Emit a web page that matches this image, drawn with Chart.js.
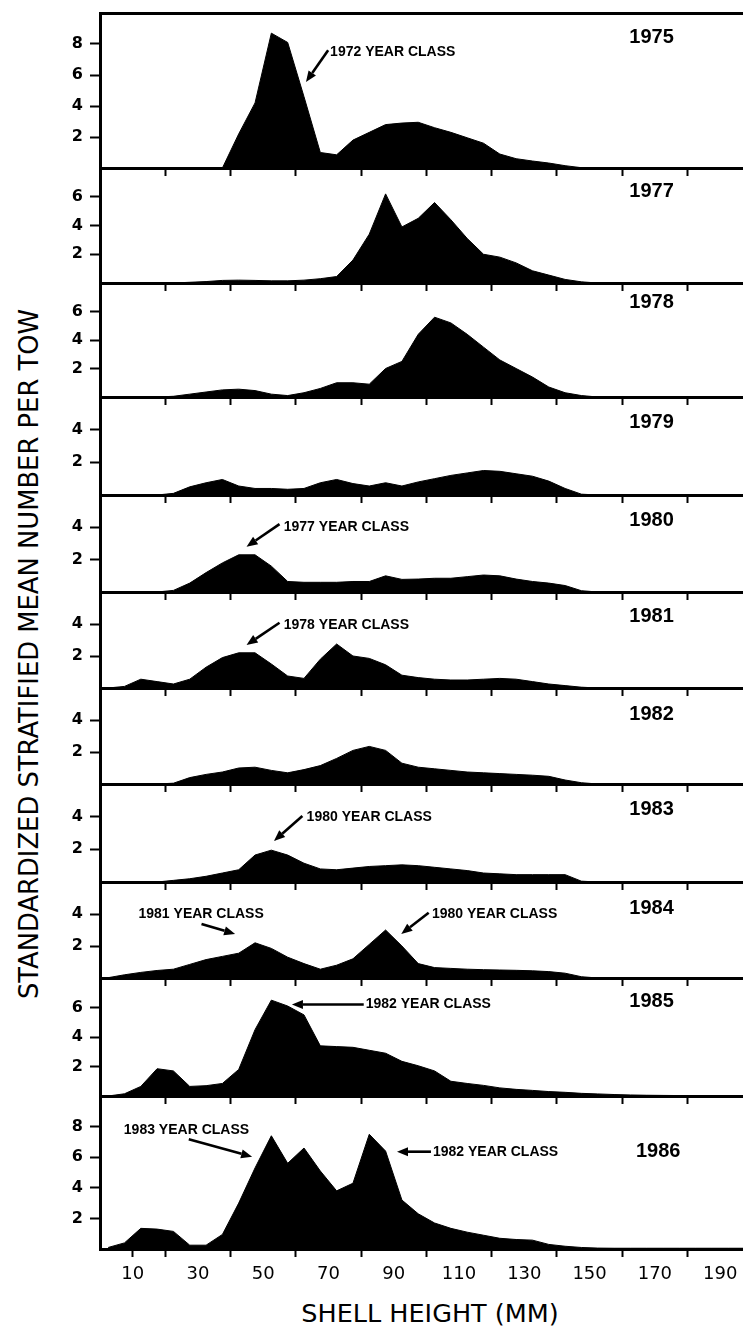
<!DOCTYPE html>
<html>
<head>
<meta charset="utf-8">
<script src="https://cdn.jsdelivr.net/npm/chart.js@4.4.0/dist/chart.umd.min.js"></script>
<style>
html,body{margin:0;padding:0;background:#fff;}
body{width:743px;height:1328px;position:relative;overflow:hidden;}
.panel{position:absolute;left:0;width:743px;}
.panel canvas{display:block;}
#ytitle{position:absolute;left:29px;top:654px;transform:translate(-50%,-50%) rotate(-90deg);white-space:nowrap;font-family:"DejaVu Sans",sans-serif;font-size:25.8px;color:#000;}
#xtitle{position:absolute;left:430px;top:1313px;transform:translate(-50%,-50%);white-space:nowrap;font-family:"DejaVu Sans",sans-serif;font-size:25.5px;color:#000;}
</style>
</head>
<body>
<div id="ytitle">STANDARDIZED STRATIFIED MEAN NUMBER PER TOW</div>
<div id="xtitle">SHELL HEIGHT (MM)</div>
<script>
// ---------------- DATA ----------------
const shellHeight = [2.5,7.5,12.5,17.5,22.5,27.5,32.5,37.5,42.5,47.5,52.5,57.5,62.5,67.5,72.5,77.5,82.5,87.5,92.5,97.5,102.5,107.5,112.5,117.5,122.5,127.5,132.5,137.5,142.5,147.5,152.5,157.5,162.5,167.5,172.5,177.5,182.5,187.5,192.5,197.5];

const years = ['1975','1977','1978','1979','1980','1981','1982','1983','1984','1985','1986'];

const n1975 = [0,0,0,0,0,0,0,0,2.2,4.2,8.7,8.1,4.6,1.0,0.85,1.8,2.3,2.8,2.9,2.95,2.6,2.3,1.95,1.6,0.9,0.6,0.45,0.32,0.15,0.02,0,0,0,0,0,0,0,0,0,0];
const n1977 = [0,0,0,0,0,0.05,0.1,0.18,0.2,0.18,0.15,0.15,0.2,0.3,0.45,1.6,3.4,6.2,3.9,4.5,5.6,4.4,3.1,2.0,1.8,1.4,0.85,0.55,0.25,0.08,0,0,0,0,0,0,0,0,0,0];
const n1978 = [0,0,0,0,0.05,0.2,0.35,0.5,0.55,0.45,0.2,0.1,0.3,0.6,1.0,1.0,0.9,2.0,2.5,4.4,5.6,5.2,4.4,3.5,2.6,2.0,1.4,0.7,0.3,0.1,0,0,0,0,0,0,0,0,0,0];
const n1979 = [0,0,0,0,0.1,0.5,0.75,0.95,0.55,0.4,0.4,0.35,0.4,0.75,0.95,0.7,0.55,0.75,0.55,0.8,1.0,1.2,1.35,1.5,1.45,1.3,1.15,0.85,0.4,0.05,0,0,0,0,0,0,0,0,0,0];
const n1980 = [0,0,0,0,0.1,0.55,1.2,1.8,2.3,2.3,1.6,0.65,0.6,0.6,0.6,0.65,0.65,1.0,0.78,0.8,0.85,0.85,0.95,1.05,1.0,0.8,0.65,0.55,0.4,0.08,0,0,0,0,0,0,0,0,0,0];
const n1981 = [0,0.1,0.55,0.4,0.25,0.55,1.3,1.9,2.2,2.2,1.5,0.75,0.6,1.8,2.75,2.0,1.85,1.45,0.8,0.65,0.55,0.5,0.5,0.55,0.6,0.55,0.4,0.25,0.15,0.05,0,0,0,0,0,0,0,0,0,0];
const n1982 = [0,0,0,0,0.05,0.4,0.6,0.75,1.0,1.05,0.85,0.7,0.9,1.15,1.6,2.1,2.35,2.1,1.3,1.05,0.95,0.85,0.75,0.7,0.65,0.6,0.55,0.48,0.25,0.08,0,0,0,0,0,0,0,0,0,0];
const n1983 = [0,0,0,0,0.1,0.2,0.35,0.55,0.75,1.65,1.95,1.65,1.15,0.8,0.75,0.85,0.95,1.0,1.05,1.0,0.9,0.8,0.7,0.55,0.5,0.45,0.45,0.45,0.45,0.05,0,0,0,0,0,0,0,0,0,0];
const n1984 = [0.02,0.2,0.35,0.47,0.55,0.85,1.15,1.35,1.55,2.2,1.85,1.3,0.9,0.55,0.8,1.2,2.1,3.0,2.0,0.9,0.65,0.6,0.55,0.52,0.5,0.48,0.45,0.4,0.3,0.08,0,0,0,0,0,0,0,0,0,0];
const n1985 = [0,0.15,0.65,1.85,1.7,0.65,0.7,0.85,1.8,4.5,6.5,6.1,5.5,3.4,3.35,3.3,3.1,2.9,2.35,2.05,1.7,1.0,0.85,0.72,0.55,0.45,0.38,0.3,0.25,0.18,0.14,0.1,0.07,0.05,0.04,0.03,0.03,0.02,0.02,0.02];
const n1986 = [0.1,0.4,1.35,1.3,1.15,0.25,0.25,0.95,3.0,5.3,7.4,5.6,6.6,5.1,3.8,4.3,7.5,6.4,3.2,2.3,1.7,1.35,1.1,0.9,0.7,0.62,0.58,0.3,0.18,0.1,0.06,0.05,0.05,0.05,0.05,0.05,0.05,0.05,0.05,0.05];

const series = [n1975,n1977,n1978,n1979,n1980,n1981,n1982,n1983,n1984,n1985,n1986];

const yAxisMax = [10,8,8,6,6,6,6,6,6,8,10];
const xMarkTicks = [20,40,60,80,100,120,140,160,180];
const xLabelTicks = [10,30,50,70,90,110,130,150,170,190];

// ---------------- LAYOUT (positions, not data) ----------------
const panelTop  = [13,168,283,397,495,592,688,784,882,978,1096];
const panelBase = [168,283,397,495,592,688,784,882,978,1096,1249];
const X_MIN = 0, X_MAX = 197;
const yearPos = [[169,8.39],[169,6.35],[169,6.6],[169,4.43],[169,4.45],[169,4.46],[169,4.375],[169,4.41],[169,4.375],[169,6.39],[171,6.36]];
const notes = [
  [{text:'1972 YEAR CLASS', at:[70.5,7.5], tail:[69.9,7.6], tip:[63.1,5.55]}],
  [], [], [],
  [{text:'1977 YEAR CLASS', at:[56.3,4.04], tail:[55,4.2], tip:[44.9,2.8]}],
  [{text:'1978 YEAR CLASS', at:[56.3,3.94], tail:[55,4.08], tip:[44.9,2.69]}],
  [],
  [{text:'1980 YEAR CLASS', at:[63.3,3.96], tail:[62,4.04], tip:[53.3,2.51]}],
  [{text:'1981 YEAR CLASS', at:[11.8,3.98], tail:[31.1,3.38], tip:[41.4,2.75]},
   {text:'1980 YEAR CLASS', at:[101.7,3.98], tail:[100.7,4.08], tip:[92.3,2.75]}],
  [{text:'1982 YEAR CLASS', at:[81.4,6.2], tail:[80.8,6.2], tip:[58.8,6.2]}],
  [{text:'1983 YEAR CLASS', at:[7.3,7.78], tail:[27.2,7.17], tip:[46.6,6.03]},
   {text:'1982 YEAR CLASS', at:[102,6.36], tail:[101.4,6.36], tip:[91,6.36]}]
];

Chart.defaults.font.family = '"DejaVu Sans", sans-serif';
Chart.defaults.color = '#000';

function drawArrow(ctx, x1, y1, x2, y2) {
  const a = Math.atan2(y2 - y1, x2 - x1);
  const L = 11, W = 4.5;
  const bx = x2 - L * Math.cos(a), by = y2 - L * Math.sin(a);
  ctx.lineWidth = 2.6;
  ctx.beginPath(); ctx.moveTo(x1, y1); ctx.lineTo(bx, by); ctx.stroke();
  ctx.beginPath();
  ctx.moveTo(x2, y2);
  ctx.lineTo(bx + W * Math.sin(a), by - W * Math.cos(a));
  ctx.lineTo(bx - W * Math.sin(a), by + W * Math.cos(a));
  ctx.closePath(); ctx.fill();
}

function makeAnnotPlugin(i) {
  return {
    id: 'annot' + i,
    afterDatasetsDraw(chart) {
      const ctx = chart.ctx, xs = chart.scales.x, ys = chart.scales.y;
      ctx.save();
      ctx.fillStyle = '#000'; ctx.strokeStyle = '#000';
      ctx.font = 'bold 20px "Liberation Sans", Arial, sans-serif';
      ctx.textAlign = 'center'; ctx.textBaseline = 'middle';
      ctx.fillText(years[i], xs.getPixelForValue(yearPos[i][0]), ys.getPixelForValue(yearPos[i][1]));
      ctx.font = 'bold 14px "Liberation Sans", Arial, sans-serif';
      ctx.textAlign = 'left';
      notes[i].forEach(n => {
        ctx.fillText(n.text, xs.getPixelForValue(n.at[0]), ys.getPixelForValue(n.at[1]));
        drawArrow(ctx, xs.getPixelForValue(n.tail[0]), ys.getPixelForValue(n.tail[1]),
                       xs.getPixelForValue(n.tip[0]), ys.getPixelForValue(n.tip[1]));
      });
      ctx.restore();
    }
  };
}

years.forEach((yr, i) => {
  const isFirst = i === 0, isLast = i === years.length - 1;
  const topPad = isFirst ? 3 : 0;
  const bottomSpace = isLast ? 48 : 9;
  const T = panelTop[i], B = panelBase[i];
  const div = document.createElement('div');
  div.className = 'panel';
  div.style.top = (T - topPad) + 'px';
  div.style.height = (B - T + topPad + bottomSpace) + 'px';
  const cv = document.createElement('canvas');
  div.appendChild(cv);
  document.body.appendChild(div);

  const ymax = yAxisMax[i];
  const scales = {
    x: {
      type: 'linear', position: 'bottom', min: X_MIN, max: X_MAX,
      afterBuildTicks: s => {
        const vals = isLast ? [10].concat(xMarkTicks).concat(xLabelTicks.slice(1)).sort((a,b)=>a-b) : xMarkTicks;
        s.ticks = vals.map(v => ({value: v}));
      },
      ticks: {
        display: isLast, autoSkip: false, maxRotation: 0, minRotation: 0, padding: 7,
        font: {size: 18}, color: '#000',
        callback: v => (xLabelTicks.includes(v) ? String(v) : '')
      },
      grid: {
        drawOnChartArea: false, drawTicks: true, tickLength: 8, tickWidth: 2, color: '#000',
        tickColor: c => (c.tick && (xMarkTicks.includes(c.tick.value) || c.tick.value === 10)) ? '#000' : 'rgba(0,0,0,0)'
      },
      border: {display: true, color: '#000', width: 3},
      afterFit: s => { s.height = bottomSpace; s.paddingLeft = 0; s.paddingRight = 0; }
    },
    y: {
      type: 'linear', position: 'left', min: 0, max: ymax,
      ticks: {stepSize: 2, padding: 7, color: '#000', font: {size: 16, weight: 'bold'}},
      afterBuildTicks: s => { s.ticks = s.ticks.filter(t => t.value > 0 && t.value < ymax); },
      grid: {drawOnChartArea: false, tickLength: 10, tickWidth: 2, color: '#000'},
      border: {display: true, color: '#000', width: 3},
      afterFit: s => { s.width = 100; s.paddingTop = 0; s.paddingBottom = 0; }
    }
  };
  if (isFirst) {
    scales.x2 = {
      type: 'linear', position: 'top', min: X_MIN, max: X_MAX,
      ticks: {display: false},
      grid: {drawOnChartArea: false, drawTicks: false},
      border: {display: true, color: '#000', width: 3},
      afterFit: s => { s.height = topPad; s.paddingLeft = 0; s.paddingRight = 0; }
    };
  }

  new Chart(cv, {
    type: 'line',
    data: {
      datasets: [{
        label: yr,
        data: shellHeight.map((x, k) => ({x: x, y: series[i][k]})),
        fill: 'origin',
        backgroundColor: '#000',
        borderColor: '#000',
        borderWidth: 1,
        pointRadius: 0,
        tension: 0
      }]
    },
    options: {
      responsive: true, maintainAspectRatio: false, animation: false,
      layout: {padding: 0},
      plugins: {legend: {display: false}, tooltip: {enabled: false}, title: {display: false}},
      scales: scales
    },
    plugins: [makeAnnotPlugin(i)]
  });
});
</script>
</body>
</html>
